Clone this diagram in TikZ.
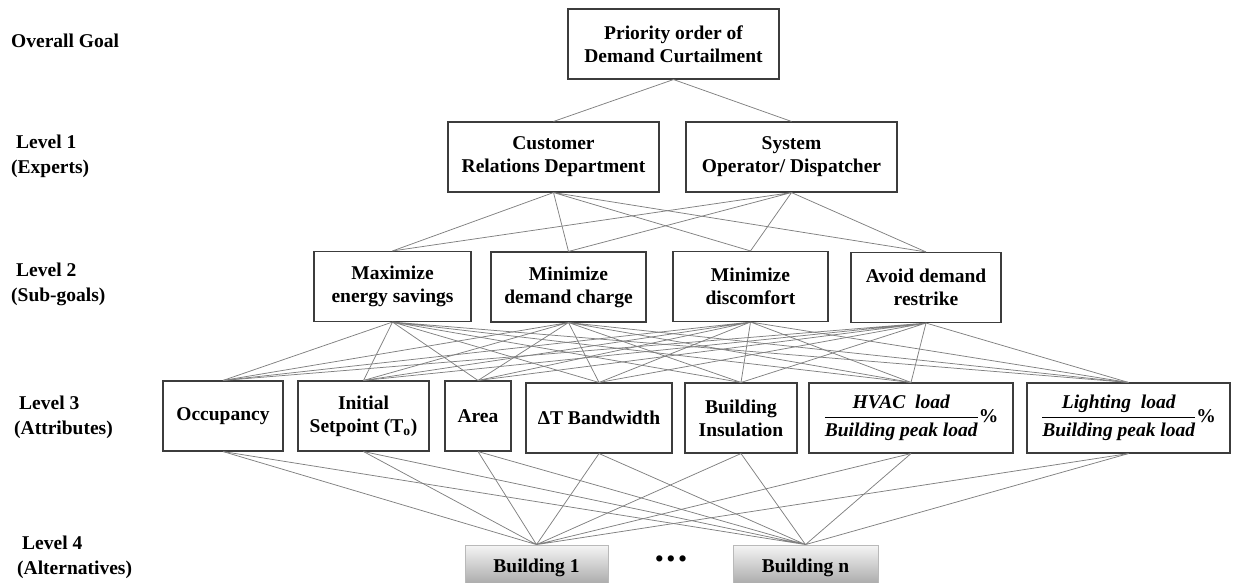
\documentclass[tikz,border=0pt]{standalone}
\usepackage{amsmath}
\usepackage{fontspec}
\setmainfont{Liberation Serif}
\definecolor{linkgray}{HTML}{808080}
\definecolor{edgegray}{HTML}{3C3C3C}
\tikzset{
  box/.style={draw=edgegray, line width=1.1pt, fill=white, align=center, inner sep=2pt,
              minimum height=70pt, font=\fontsize{19.5}{23}\selectfont\bfseries},
  bldbox/.style={box, draw=gray!55, line width=0.8pt, top color=gray!8, bottom color=gray!75,
                 minimum height=45pt},
  link/.style={draw=linkgray, line width=0.75pt},
  lvl/.style={anchor=west, align=left, inner sep=0pt, font=\fontsize{19.5}{25}\selectfont\bfseries},
}
\newcommand{\loadfrac}[1]{$\dfrac{\text{\itshape #1}}{\text{\itshape Building peak load}}$\%}

\begin{document}
\begin{tikzpicture}[x=1pt, y=-1pt]
    \useasboundingbox (0,0) rectangle (1235,583);
    % level captions
    \node[lvl] (cap0) at (11,41) {Overall Goal};
    \node[lvl] (cap1) at (11,156) {\hspace*{5pt}Level 1\\(Experts)};
    \node[lvl] (cap2) at (11,284) {\hspace*{5pt}Level 2\\(Sub-goals)};
    \node[lvl] (cap3) at (14,417) {\hspace*{5pt}Level 3\\(Attributes)};
    \node[lvl] (cap4) at (17,557) {\hspace*{5pt}Level 4\\(Alternatives)};
    % goal and experts
    \node[box, minimum width=211pt] (goal) at (673.5,44) {Priority order of\\Demand Curtailment};
    \node[box, minimum width=211pt] (crd) at (553.5,157) {Customer\\Relations Department};
    \node[box, minimum width=211pt] (sod) at (791.5,157) {System\\Operator/ Dispatcher};
    % sub-goals
    \node[box, minimum width=157pt] (mes) at (392.5,286.5) {Maximize\\energy savings};
    \node[box, minimum width=155pt] (mdc) at (568.5,287) {Minimize\\demand charge};
    \node[box, minimum width=155pt] (mdi) at (750.5,286.5) {Minimize\\discomfort};
    \node[box, minimum width=150pt] (adr) at (926,287.5) {Avoid demand\\restrike};
    % attributes
    \node[box, minimum width=120pt] (occ) at (223,416) {Occupancy};
    \node[box, minimum width=131pt] (isp) at (363.5,416) {Initial\\Setpoint (T\textsubscript{o})};
    \node[box, minimum width=66pt] (area) at (478,416) {Area};
    \node[box, minimum width=146pt] (dtb) at (599,418) {ΔT Bandwidth};
    \node[box, minimum width=112pt] (bins) at (741,418) {Building\\Insulation};
    \node[box, minimum width=204pt] (hvac) at (911,418) {\loadfrac{HVAC\ \ load}};
    \node[box, minimum width=203pt] (light) at (1128.5,418) {\loadfrac{Lighting\ \ load}};
    % alternatives
    \node[bldbox, minimum width=143pt] (b1) at (536.5,567.5) {Building 1};
    \node[bldbox, minimum width=145pt] (bn) at (805.5,567.5) {Building n};
    \node[font=\fontsize{26}{26}\selectfont, inner sep=0pt] (dots) at (671,562) {\textbullet\hspace{2.5pt}\textbullet\hspace{2.5pt}\textbullet};
    % links
    \draw[link] (goal.south) -- (crd.north) (goal.south) -- (sod.north);
    \draw[link] (crd.south) -- (mes.north) (crd.south) -- (mdc.north) (crd.south) -- (mdi.north) (crd.south) -- (adr.north);
    \draw[link] (sod.south) -- (mes.north) (sod.south) -- (mdc.north) (sod.south) -- (mdi.north) (sod.south) -- (adr.north);
    \draw[link] (mes.south) -- (occ.north) (mes.south) -- (isp.north) (mes.south) -- (area.north) (mes.south) -- (dtb.north)
                (mes.south) -- (bins.north) (mes.south) -- (hvac.north) (mes.south) -- (light.north);
    \draw[link] (mdc.south) -- (occ.north) (mdc.south) -- (isp.north) (mdc.south) -- (area.north) (mdc.south) -- (dtb.north)
                (mdc.south) -- (bins.north) (mdc.south) -- (hvac.north) (mdc.south) -- (light.north);
    \draw[link] (mdi.south) -- (occ.north) (mdi.south) -- (isp.north) (mdi.south) -- (area.north) (mdi.south) -- (dtb.north)
                (mdi.south) -- (bins.north) (mdi.south) -- (hvac.north) (mdi.south) -- (light.north);
    \draw[link] (adr.south) -- (occ.north) (adr.south) -- (isp.north) (adr.south) -- (area.north) (adr.south) -- (dtb.north)
                (adr.south) -- (bins.north) (adr.south) -- (hvac.north) (adr.south) -- (light.north);
    \draw[link] (occ.south) -- (b1.north) (isp.south) -- (b1.north) (area.south) -- (b1.north) (dtb.south) -- (b1.north)
                (bins.south) -- (b1.north) (hvac.south) -- (b1.north) (light.south) -- (b1.north);
    \draw[link] (occ.south) -- (bn.north) (isp.south) -- (bn.north) (area.south) -- (bn.north) (dtb.south) -- (bn.north)
                (bins.south) -- (bn.north) (hvac.south) -- (bn.north) (light.south) -- (bn.north);
\end{tikzpicture}
\end{document}
